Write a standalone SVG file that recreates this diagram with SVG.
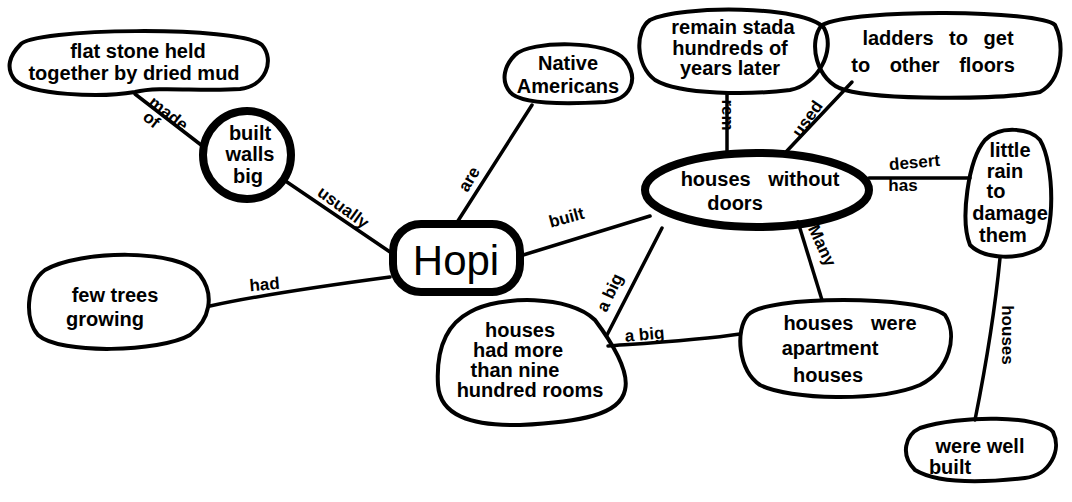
<svg xmlns="http://www.w3.org/2000/svg" width="1072" height="502" viewBox="0 0 1072 502">
<style>
.n{fill:none;stroke:#000;stroke-width:4;stroke-linejoin:round}
.nt{fill:none;stroke:#000;stroke-width:8;stroke-linejoin:round}
.c{fill:none;stroke:#000;stroke-width:3.5;stroke-linecap:round}
text{font-family:"Liberation Sans",Arial,sans-serif;fill:#000;font-weight:bold}
.t{font-size:20px;text-anchor:middle}
.l{font-size:17px;text-anchor:middle}
</style>
<rect width="1072" height="502" fill="#fff"/>
<g id="connectors">
<path class="c" d="M135 94 L205 148"/>
<text class="l" transform="translate(165 118) rotate(38)">made</text>
<text class="l" transform="translate(148 124) rotate(38)">of</text>
<path class="c" d="M284 180 L393 254"/>
<text class="l" transform="translate(340 212) rotate(36)">usually</text>
<path class="c" d="M210 306 C260 295 330 285 390 277"/>
<text class="l" transform="translate(265 290) rotate(-5)">had</text>
<path class="c" d="M456 224 L532 105"/>
<text class="l" transform="translate(474 182) rotate(-60)">are</text>
<path class="c" d="M520 256 L650 216"/>
<text class="l" transform="translate(568 223) rotate(-15)">built</text>
<path class="c" d="M727 152 L727 93"/>
<text class="l" transform="translate(722 115) rotate(90)">rem</text>
<path class="c" d="M785 153 L852 82"/>
<text class="l" transform="translate(812 122) rotate(-55)">used</text>
<path class="c" d="M869 178 L970 178"/>
<text class="l" transform="translate(915 168) rotate(-5)">desert</text>
<text class="l" transform="translate(903 191)">has</text>
<path class="c" d="M662 228 L607 335"/>
<text class="l" transform="translate(615 295) rotate(-65)">a big</text>
<path class="c" d="M608 346 C650 343 700 340 740 334"/>
<text class="l" transform="translate(645 340) rotate(-5)">a big</text>
<path class="c" d="M798 222 L822 300"/>
<text class="l" transform="translate(817 248) rotate(65)">Many</text>
<path class="c" d="M1000 258 C995 310 985 370 975 420"/>
<text class="l" transform="translate(1002 335) rotate(90)">houses</text>
</g>
<g id="flat-stone">
<path class="n" d="M20 45 C30 28 240 25 262 45 C275 60 266 86 240 89 C200 92 160 86 135 92 C100 98 30 95 15 80 C5 68 10 55 20 45 Z"/>
<text class="t" x="138" y="58">flat stone held</text>
<text class="t" x="134" y="80">together by dried mud</text>
</g>
<g id="built-walls-big">
<circle class="nt" cx="247" cy="155" r="44" stroke-width="7"/>
<text class="t" x="250" y="140">built</text>
<text class="t" x="250" y="161" font-size="17">walls</text>
<text class="t" x="248" y="183">big</text>
</g>
<g id="native-americans">
<path class="n" d="M515 55 C530 40 610 40 625 60 C640 80 630 100 605 102 C570 104 520 105 510 92 C500 80 505 65 515 55 Z"/>
<text class="t" x="568" y="70">Native</text>
<text class="t" x="568" y="93">Americans</text>
</g>
<g id="remain">
<path class="n" d="M650 20 C680 5 805 5 824 28 C836 50 818 85 790 90 C750 95 680 95 655 80 C635 65 635 30 650 20 Z"/>
<text class="t" x="733" y="34" font-size="18">remain stada</text>
<text class="t" x="730" y="55" font-size="16">hundreds of</text>
<text class="t" x="730" y="75" font-size="16">years later</text>
</g>
<g id="ladders">
<path class="n" d="M822 25 C855 8 1040 10 1055 25 C1065 45 1062 80 1040 92 C1000 100 880 100 845 90 C815 82 808 40 822 25 Z"/>
<text class="t" x="938" y="45" font-size="22" word-spacing="10">ladders to get</text>
<text class="t" x="933" y="72" font-size="22" word-spacing="14">to other floors</text>
</g>
<g id="houses-without-doors">
<ellipse class="nt" cx="757" cy="190" rx="112" ry="37"/>
<text class="t" x="760" y="186" font-size="21" word-spacing="12">houses without</text>
<text class="t" x="735" y="210" font-size="21">doors</text>
</g>
<g id="little-rain">
<path class="n" d="M985 140 C1000 125 1030 128 1040 140 C1055 165 1055 235 1040 248 C1020 260 985 260 970 245 C960 220 968 160 985 140 Z"/>
<text class="t" x="1010" y="157" font-size="17">little</text>
<text class="t" x="1005" y="178" font-size="17">rain</text>
<text class="t" x="996" y="198" font-size="15">to</text>
<text class="t" x="1010" y="220" font-size="17">damage</text>
<text class="t" x="1003" y="242" font-size="17">them</text>
</g>
<g id="hopi">
<rect class="nt" x="393" y="224" width="127" height="68" rx="28"/>
<text x="456" y="275" font-size="42" text-anchor="middle" style="font-weight:normal">Hopi</text>
</g>
<g id="few-trees">
<path class="n" d="M45 270 C80 250 180 248 200 275 C215 295 210 320 190 335 C160 352 60 355 38 335 C25 320 25 285 45 270 Z"/>
<text class="t" x="115" y="302" font-size="22">few trees</text>
<text class="t" x="105" y="326" font-size="22">growing</text>
</g>
<g id="nine-hundred-rooms">
<path class="n" d="M470 312 C500 295 570 295 595 320 C610 340 630 370 625 390 C620 415 580 422 520 425 C470 426 440 415 438 385 C436 350 445 325 470 312 Z"/>
<text class="t" x="520" y="337" font-size="18">houses</text>
<text class="t" x="518" y="357" font-size="18">had more</text>
<text class="t" x="515" y="377" font-size="18">than nine</text>
<text class="t" x="530" y="397" font-size="18">hundred rooms</text>
</g>
<g id="apartment-houses">
<path class="n" d="M748 315 C765 295 920 295 945 315 C958 335 950 370 920 385 C880 402 790 400 760 385 C738 370 735 330 748 315 Z"/>
<text class="t" x="850" y="330" font-size="21" word-spacing="12">houses were</text>
<text class="t" x="830" y="355" font-size="23">apartment</text>
<text class="t" x="828" y="382" font-size="21">houses</text>
</g>
<g id="were-well-built">
<path class="n" d="M920 428 C960 415 1040 415 1053 432 C1062 450 1050 475 1025 478 C990 482 940 485 915 470 C900 455 905 435 920 428 Z"/>
<text class="t" x="980" y="453" font-size="21">were well</text>
<text class="t" x="950" y="474" font-size="21">built</text>
</g>
</svg>
